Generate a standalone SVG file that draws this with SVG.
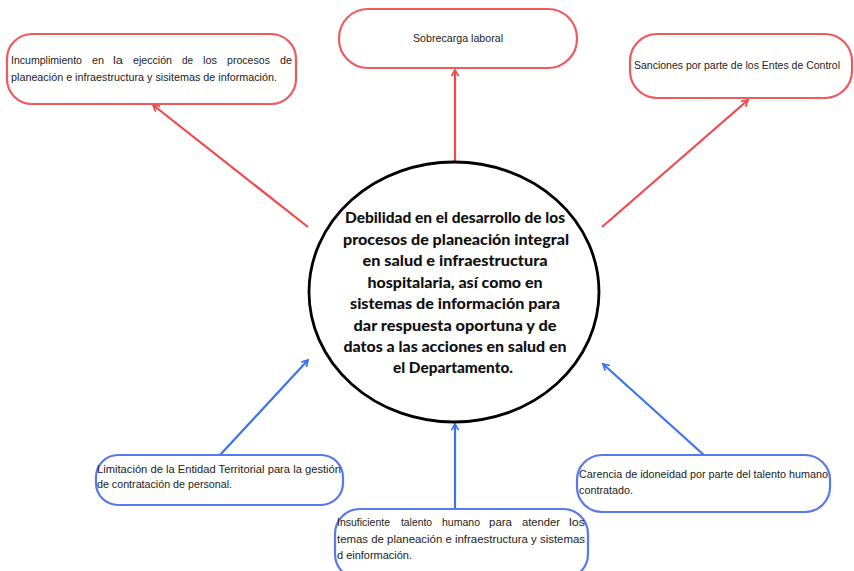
<svg xmlns="http://www.w3.org/2000/svg" width="854" height="571" viewBox="0 0 854 571">
<style>
.bg{fill:#ffffff}
.red{fill:#ffffff;stroke:#ef5a5e;stroke-width:2.2}
.blue{fill:#ffffff;stroke:#5a78ee;stroke-width:2.2}
.t{font-family:"Liberation Sans",Arial,sans-serif;font-size:11.5px;fill:#222}
.c{font-family:Lato,"Open Sans",sans-serif;font-weight:900;font-size:15.5px;fill:#111;text-anchor:middle}
.ar{stroke:#f4474b;stroke-width:2.2;fill:none}
.ab{stroke:#3b72ee;stroke-width:2.2;fill:none}
</style>
<defs>
<marker id="mr" viewBox="0 0 10 10" refX="8" refY="5" markerWidth="4" markerHeight="4" orient="auto" markerUnits="strokeWidth">
<polyline points="1,1 8,5 1,9" fill="none" stroke="#f4474b" stroke-width="2"/>
</marker>
<marker id="mb" viewBox="0 0 10 10" refX="8" refY="5" markerWidth="4" markerHeight="4" orient="auto" markerUnits="strokeWidth">
<polyline points="1,1 8,5 1,9" fill="none" stroke="#3b72ee" stroke-width="2"/>
</marker>
</defs>
<rect class="bg" x="0" y="0" width="854" height="571"/>
<g id="connectors">
<line class="ar" x1="308" y1="227" x2="153" y2="105" marker-end="url(#mr)"/>
<line class="ar" x1="455" y1="162" x2="455" y2="70" marker-end="url(#mr)"/>
<line class="ar" x1="602" y1="227" x2="748" y2="100" marker-end="url(#mr)"/>
<line class="ab" x1="220" y1="455" x2="308" y2="360" marker-end="url(#mb)"/>
<line class="ab" x1="455" y1="508" x2="455" y2="424" marker-end="url(#mb)"/>
<line class="ab" x1="705" y1="456" x2="603" y2="364" marker-end="url(#mb)"/>
</g>
<g id="center">
<ellipse cx="454" cy="292" rx="145" ry="130" fill="#ffffff" stroke="#000" stroke-width="2.8"/>
<text class="c" x="455" y="223" textLength="220" lengthAdjust="spacingAndGlyphs">Debilidad en el desarrollo de los</text>
<text class="c" x="456" y="245" textLength="226" lengthAdjust="spacingAndGlyphs">procesos de planeación integral</text>
<text class="c" x="455" y="266" textLength="185" lengthAdjust="spacingAndGlyphs">en salud e infraestructura</text>
<text class="c" x="455" y="288" textLength="175" lengthAdjust="spacingAndGlyphs">hospitalaria, así como en</text>
<text class="c" x="455" y="309" textLength="210" lengthAdjust="spacingAndGlyphs">sistemas de información para</text>
<text class="c" x="455" y="331" textLength="203" lengthAdjust="spacingAndGlyphs">dar respuesta oportuna y de</text>
<text class="c" x="455" y="352" textLength="223" lengthAdjust="spacingAndGlyphs">datos a las acciones en salud en</text>
<text class="c" x="453" y="373" textLength="120" lengthAdjust="spacingAndGlyphs">el Departamento.</text>
</g>
<g id="n-incumplimiento">
<rect class="red" x="7" y="34" width="289" height="70" rx="25"/>
<text class="t" y="64"><tspan x="11" textLength="71" lengthAdjust="spacingAndGlyphs">Incumplimiento</tspan> <tspan x="92" textLength="12" lengthAdjust="spacingAndGlyphs">en</tspan> <tspan x="113" textLength="10" lengthAdjust="spacingAndGlyphs">la</tspan> <tspan x="133" textLength="39" lengthAdjust="spacingAndGlyphs">ejección</tspan> <tspan x="182" textLength="11" lengthAdjust="spacingAndGlyphs">de</tspan> <tspan x="203" textLength="14" lengthAdjust="spacingAndGlyphs">los</tspan> <tspan x="227" textLength="43" lengthAdjust="spacingAndGlyphs">procesos</tspan> <tspan x="280" textLength="12" lengthAdjust="spacingAndGlyphs">de</tspan></text>
<text class="t" x="11" y="81" textLength="266" lengthAdjust="spacingAndGlyphs">planeación e infraestructura y sisitemas de información.</text>
</g>
<g id="n-sobrecarga">
<rect class="red" x="339" y="9" width="238" height="59" rx="29"/>
<text class="t" x="413" y="42" textLength="90" lengthAdjust="spacingAndGlyphs">Sobrecarga laboral</text>
</g>
<g id="n-sanciones">
<rect class="red" x="630" y="34" width="222" height="64" rx="27"/>
<text class="t" x="634" y="69" textLength="206" lengthAdjust="spacingAndGlyphs">Sanciones por parte de los Entes de Control</text>
</g>
<g id="n-limitacion">
<rect class="blue" x="96" y="455" width="247" height="50" rx="22"/>
<text class="t" x="97" y="473" textLength="244" lengthAdjust="spacingAndGlyphs">Limitación de la Entidad Territorial para la gestión</text>
<text class="t" x="97" y="488" textLength="135" lengthAdjust="spacingAndGlyphs">de contratación de personal.</text>
</g>
<g id="n-insuficiente">
<rect class="blue" x="335" y="509" width="253" height="70" rx="25"/>
<text class="t" y="526"><tspan x="337" textLength="53" lengthAdjust="spacingAndGlyphs">Insuficiente</tspan> <tspan x="401" textLength="31" lengthAdjust="spacingAndGlyphs">talento</tspan> <tspan x="442" textLength="38" lengthAdjust="spacingAndGlyphs">humano</tspan> <tspan x="489" textLength="23" lengthAdjust="spacingAndGlyphs">para</tspan> <tspan x="522" textLength="38" lengthAdjust="spacingAndGlyphs">atender</tspan> <tspan x="569" textLength="16" lengthAdjust="spacingAndGlyphs">los</tspan></text>
<text class="t" x="337" y="543" textLength="248" lengthAdjust="spacingAndGlyphs">temas de planeación e infraestructura y sistemas</text>
<text class="t" x="337" y="559" textLength="75" lengthAdjust="spacingAndGlyphs">d einformación.</text>
</g>
<g id="n-carencia">
<rect class="blue" x="577" y="455" width="253" height="57" rx="25"/>
<text class="t" x="579" y="478" textLength="249" lengthAdjust="spacingAndGlyphs">Carencia de idoneidad por parte del talento humano</text>
<text class="t" x="579" y="494" textLength="54" lengthAdjust="spacingAndGlyphs">contratado.</text>
</g>
</svg>
